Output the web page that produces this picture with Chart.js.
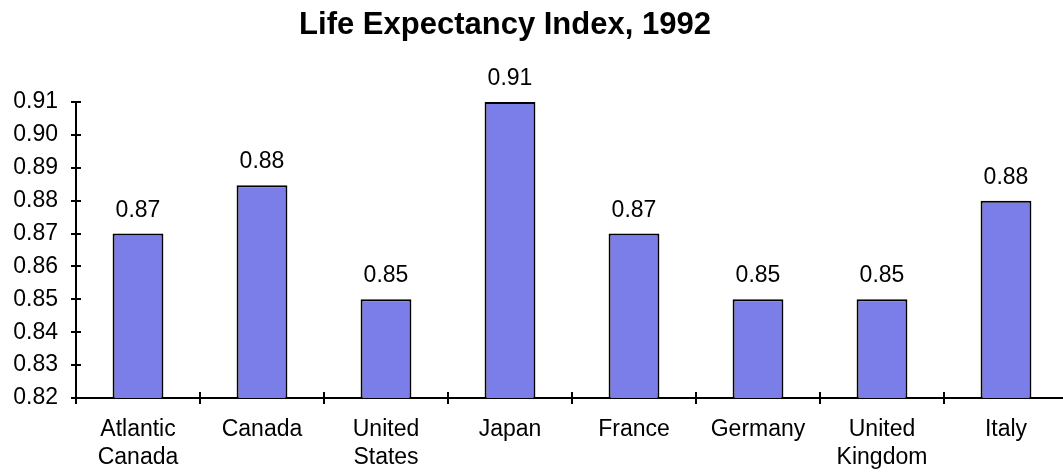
<!DOCTYPE html>
<html><head><meta charset="utf-8">
<script src="https://cdn.jsdelivr.net/npm/chart.js@4/dist/chart.umd.min.js"></script>
<style>html,body{margin:0;padding:0;overflow:hidden;background:#fff;} #wrap{width:1070px;height:472px;position:relative;}</style>
</head><body><div id="wrap"><canvas id="c" width="1070" height="472"></canvas></div>
<script>
const titleText = 'Life Expectancy Index, 1992';
const categories = [['Atlantic','Canada'], 'Canada', ['United','States'], 'Japan', 'France', 'Germany', ['United','Kingdom'], 'Italy'];
const values = [0.87, 0.8847, 0.85, 0.91, 0.87, 0.85, 0.85, 0.88];
const yMin = 0.82, yMax = 0.91, yStep = 0.01;

const FONT = '"Liberation Sans", Arial, sans-serif';
Chart.defaults.font.family = FONT;
Chart.defaults.font.size = 23;
Chart.defaults.color = '#000';

const titlePlugin = {
  id: 'titleDraw',
  afterDraw(chart) {
    const ctx = chart.ctx;
    ctx.save();
    ctx.font = 'bold 31px ' + FONT;
    ctx.fillStyle = '#000';
    ctx.textAlign = 'center';
    ctx.textBaseline = 'alphabetic';
    ctx.fillText(titleText, 505, 34);
    ctx.restore();
  }
};

const stubPlugin = {
  id: 'stubs',
  afterDraw(chart) {
    const ctx = chart.ctx;
    const xs = chart.scales.x, ys = chart.scales.y;
    const area = chart.chartArea;
    ctx.save();
    ctx.strokeStyle = '#000';
    ctx.lineWidth = 2;
    ctx.beginPath();
    ys.ticks.forEach(t => {
      const y = Math.round(ys.getPixelForValue(t.value));
      ctx.moveTo(area.left, y);
      ctx.lineTo(area.left + 5, y);
    });
    for (let i = 1; i <= categories.length; i++) {
      const x = Math.round(xs.getPixelForValue(i - 0.5));
      ctx.moveTo(x, area.bottom);
      ctx.lineTo(x, area.bottom - 6);
    }
    ctx.stroke();
    ctx.restore();
  }
};

const labelPlugin = {
  id: 'barLabels',
  afterDatasetsDraw(chart) {
    const ctx = chart.ctx;
    const meta = chart.getDatasetMeta(0);
    ctx.save();
    ctx.font = '23px ' + FONT;
    ctx.fillStyle = '#000';
    ctx.textAlign = 'center';
    ctx.textBaseline = 'alphabetic';
    meta.data.forEach((bar, i) => {
      ctx.fillText(values[i].toFixed(2), bar.x, bar.y - 17);
    });
    ctx.restore();
  }
};

new Chart(document.getElementById('c'), {
  type: 'bar',
  data: {
    labels: categories,
    datasets: [{
      data: values,
      backgroundColor: '#7b7de8',
      borderColor: '#000',
      borderWidth: 2,
      barPercentage: 0.41,
      categoryPercentage: 1.0
    }]
  },
  options: {
    responsive: false,
    animation: false,
    devicePixelRatio: 1,
    layout: { padding: { top: 102, left: 12, right: 2, bottom: 0 } },
    plugins: { legend: { display: false }, title: { display: false }, tooltip: { enabled: false } },
    scales: {
      x: {
        offset: true,
        grid: { offset: true, drawOnChartArea: false, drawTicks: true, tickLength: 6, color: '#000', lineWidth: 2 },
        border: { display: true, color: '#000', width: 2 },
        ticks: { color: '#000', padding: 12, maxRotation: 0, autoSkip: false, font: { size: 23, lineHeight: 1.2 } },
        afterFit(s) { s.height = 74; }
      },
      y: {
        min: yMin, max: yMax,
        grid: { drawOnChartArea: false, drawTicks: true, tickLength: 5, color: '#000', lineWidth: 2 },
        border: { display: true, color: '#000', width: 2 },
        ticks: { stepSize: yStep, color: '#000', padding: 13, font: { size: 23 },
          callback: v => Number(v).toFixed(2) },
        afterFit(s) { s.width = 64; }
      }
    }
  },
  plugins: [titlePlugin, stubPlugin, labelPlugin]
});
</script>
</body></html>
